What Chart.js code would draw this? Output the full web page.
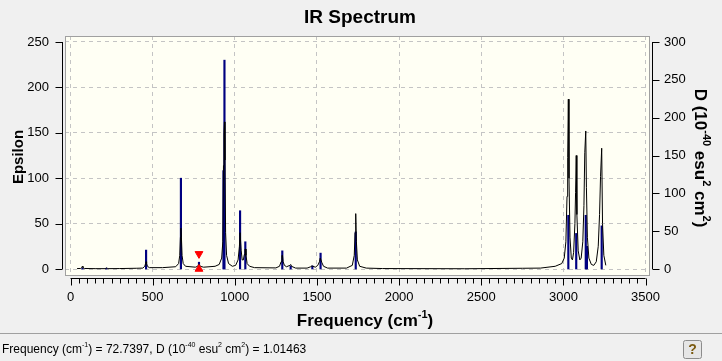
<!DOCTYPE html>
<html>
<head>
<meta charset="utf-8">
<script src="https://cdn.jsdelivr.net/npm/chart.js@4.4.0/dist/chart.umd.min.js"></script>
<style>
  html, body { margin: 0; padding: 0; background: #f0f0f0; }
  canvas { display: block; }
</style>
</head>
<body>
<canvas id="ir" width="722" height="361"></canvas>
<script>
// broadened spectrum (Epsilon, left axis)
var curveFreq = [40, 62, 68, 72, 76, 84, 150, 215, 220, 226, 300, 400, 440, 452, 457, 460, 463, 468, 480, 560,
  640, 658, 665, 669, 672, 675, 679, 686, 700, 760, 774, 779, 782, 785, 790, 810, 880, 905, 920, 927,
  931, 934, 937, 940, 944, 950, 962, 985, 1005, 1020, 1028, 1032, 1035, 1039, 1045, 1052, 1058, 1062, 1065, 1068,
  1075, 1090, 1120, 1250, 1272, 1282, 1287, 1290, 1294, 1302, 1315, 1335, 1340, 1345, 1370, 1440, 1462, 1470, 1476, 1490,
  1505, 1515, 1520, 1524, 1530, 1540, 1565, 1680, 1715, 1727, 1732, 1736, 1740, 1746, 1760, 1800, 1900, 2400, 2750, 2860,
  2950, 2990, 3005, 3015, 3022, 3026, 3030, 3034, 3040, 3048, 3055, 3062, 3070, 3074, 3078, 3082, 3090, 3100, 3108, 3118,
  3125, 3130, 3136, 3140, 3146, 3155, 3170, 3185, 3200, 3212, 3220, 3226, 3233, 3238, 3246, 3258];
var curveEps = [0.5, 0.6, 1.5, 3, 1.5, 0.6, 0.4, 0.4, 1.5, 0.4, 0.5, 0.8, 1, 3, 6, 8, 6, 3, 1.5, 1.5,
  2.5, 6, 15, 35, 45, 35, 15, 6, 3, 2, 3, 4.5, 5, 4.5, 3, 2, 3, 5, 12, 30,
  114, 150, 162, 120, 40, 15, 6, 3, 4, 10, 25, 40, 40, 20, 10, 10, 16, 22, 22, 15,
  6, 3, 1.5, 1.2, 3, 8, 15, 15, 8, 4, 2.5, 4, 5, 3, 1, 1, 2.5, 3.5, 3, 2,
  4, 8, 12, 12, 7, 3, 1, 1, 4, 15, 40, 61, 30, 10, 3, 1, 0.5, 0.3, 0.8, 1,
  3, 6, 12, 30, 80, 123, 187, 100, 35, 12, 10, 18, 50, 84, 125, 60, 20, 10, 12, 30,
  70, 128, 152, 90, 35, 12, 5, 4, 8, 25, 60, 102, 133, 50, 15, 4];

// computed transitions (D, right axis)
var stickFreq = [73, 218, 460, 672, 782, 931, 937, 1032, 1064, 1289, 1340, 1472, 1522, 1736, 3030, 3078, 3136, 3143, 3233];
var stickD = [1.0, 1.0, 25, 120, 9, 130, 276, 77, 36, 24, 4, 4, 21, 49, 71, 47, 71, 30, 57];

// selected transition marker
var markFreq = 782;
var markD = [20, 0];

var xTicks = [0, 500, 1000, 1500, 2000, 2500, 3000, 3500];
var epsTicks = [0, 50, 100, 150, 200, 250];
var dTicks = [0, 50, 100, 150, 200, 250, 300];

var FONT = "'Liberation Sans', Arial, sans-serif";
Chart.defaults.font.family = FONT;
Chart.defaults.color = "#000";

function drawRich(ctx, parts, x, y, size, bold, align) {
  var w = 0;
  parts.forEach(function(p) {
    ctx.font = (bold ? "bold " : "") + (p.sup ? Math.round(size * 0.62) : size) + "px " + FONT;
    p.w = ctx.measureText(p.t).width;
    w += p.w;
  });
  var cx = align == "left" ? x : x - w / 2;
  ctx.textAlign = "left";
  ctx.textBaseline = "middle";
  parts.forEach(function(p) {
    ctx.font = (bold ? "bold " : "") + (p.sup ? Math.round(size * 0.62) : size) + "px " + FONT;
    ctx.fillText(p.t, cx, p.sup ? y - size * 0.38 : y);
    cx += p.w;
  });
}

function plainLabel(v) { return String(v); }

var decor = {
  id: "decor",
  beforeDraw: function(chart) {
    var ctx = chart.ctx, a = chart.chartArea;
    ctx.save();
    ctx.fillStyle = "#f0f0f0";
    ctx.fillRect(0, 0, chart.width, chart.height);
    ctx.fillStyle = "#fffff4";
    ctx.fillRect(a.left, a.top, a.right - a.left, a.bottom - a.top);
    ctx.restore();
  },
  afterDraw: function(chart) {
    var ctx = chart.ctx, a = chart.chartArea;
    var sx = chart.scales.x, sy = chart.scales.y, sd = chart.scales.y2;
    ctx.save();
    // frame
    ctx.strokeStyle = "#a0a0a0";
    ctx.lineWidth = 1;
    ctx.strokeRect(a.left + 0.5, a.top + 0.5, a.right - a.left - 1, a.bottom - a.top);

    // axis lines and tick marks
    ctx.strokeStyle = "#000";
    ctx.beginPath();
    var lx = a.left - 2.5;
    ctx.moveTo(lx, sy.getPixelForValue(250));
    ctx.lineTo(lx, sy.getPixelForValue(0));
    epsTicks.forEach(function(v) {
      var py = Math.round(sy.getPixelForValue(v)) + 0.5;
      ctx.moveTo(lx - 7, py);
      ctx.lineTo(lx, py);
    });
    var rx = a.right + 2.5;
    ctx.moveTo(rx, sd.getPixelForValue(300));
    ctx.lineTo(rx, sd.getPixelForValue(0));
    dTicks.forEach(function(v) {
      var py = Math.round(sd.getPixelForValue(v)) + 0.5;
      ctx.moveTo(rx, py);
      ctx.lineTo(rx + 7, py);
    });
    var by = a.bottom + 3.5;
    ctx.moveTo(sx.getPixelForValue(0), by);
    ctx.lineTo(sx.getPixelForValue(3500), by);
    for (var f = 0; f <= 3500; f += 50) {
      var px = Math.round(sx.getPixelForValue(f)) + 0.5;
      ctx.moveTo(px, by);
      ctx.lineTo(px, by + (f % 500 == 0 ? 7 : 5));
    }
    ctx.stroke();

    // titles
    ctx.fillStyle = "#000";
    drawRich(ctx, [{t: "IR Spectrum"}], 360, 18, 19, true);
    drawRich(ctx, [{t: "Frequency (cm"}, {t: "-1", sup: true}, {t: ")"}], 365, 321, 17, true);

    ctx.save();
    ctx.translate(19, 157);
    ctx.rotate(-Math.PI / 2);
    drawRich(ctx, [{t: "Epsilon"}], 0, 0, 15, true);
    ctx.restore();

    ctx.save();
    ctx.translate(700, 158);
    ctx.rotate(Math.PI / 2);
    drawRich(ctx, [{t: "D (10"}, {t: "-40", sup: true}, {t: " esu"}, {t: "2", sup: true},
      {t: " cm"}, {t: "2", sup: true}, {t: ")"}], 0, 0, 17, true);
    ctx.restore();

    // status bar
    ctx.strokeStyle = "#a0a0a0";
    ctx.beginPath();
    ctx.moveTo(0, 333.5);
    ctx.lineTo(chart.width, 333.5);
    ctx.stroke();
    drawRich(ctx, [{t: "Frequency (cm"}, {t: "-1", sup: true}, {t: ") = 72.7397, D (10"}, {t: "-40", sup: true},
      {t: " esu"}, {t: "2", sup: true}, {t: " cm"}, {t: "2", sup: true}, {t: ") = 1.01463"}], 2, 350, 12, false, "left");

    // help button
    ctx.fillStyle = "#e6e6e6";
    ctx.strokeStyle = "#8c8c8c";
    ctx.beginPath();
    ctx.roundRect(683.5, 340.5, 18, 18, 2);
    ctx.fill();
    ctx.stroke();
    ctx.fillStyle = "#7a5a10";
    ctx.font = "bold 14px " + FONT;
    ctx.textAlign = "center";
    ctx.fillText("?", 692.5, 350);
    ctx.restore();
  }
};

var ctx = document.getElementById("ir").getContext("2d");
var chart = new Chart(ctx, {
  type: "bar",
  data: {
    datasets: [
      {
        type: "line",
        label: "Epsilon",
        data: curveFreq.map(function(f, i) { return {x: f, y: curveEps[i]}; }),
        yAxisID: "y",
        borderColor: "#000",
        borderWidth: 1,
        pointRadius: 0,
        tension: 0,
        order: 1
      },
      {
        type: "bar",
        label: "D",
        data: stickFreq.map(function(f, i) { return {x: f, y: stickD[i]}; }),
        yAxisID: "y2",
        backgroundColor: "#000080",
        barThickness: 1.5,
        order: 2
      },
      {
        type: "scatter",
        label: "marker",
        data: markD.map(function(d) { return {x: markFreq, y: d}; }),
        yAxisID: "y2",
        pointStyle: "triangle",
        rotation: [180, 0],
        pointRadius: 4.5,
        backgroundColor: "#ff0000",
        borderColor: "#ff0000",
        order: 0
      }
    ]
  },
  options: {
    responsive: false,
    animation: false,
    devicePixelRatio: 1,
    layout: { padding: { top: 36, left: 0, right: 0, bottom: 0 } },
    plugins: { legend: { display: false }, tooltip: { enabled: false } },
    scales: {
      x: {
        type: "linear",
        min: -33.5,
        max: 3527,
        offset: false,
        afterBuildTicks: function(s) { s.ticks = xTicks.map(function(v) { return {value: v}; }); },
        afterFit: function(s) { s.height = 86; },
        ticks: { font: { size: 13 }, padding: 15, maxRotation: 0, autoSkip: false, callback: plainLabel },
        grid: { color: "#c4c4c4", drawTicks: false, offset: false },
        border: { display: false, dash: [4, 4] }
      },
      y: {
        position: "left",
        min: -6.6,
        max: 256.6,
        afterBuildTicks: function(s) { s.ticks = epsTicks.map(function(v) { return {value: v}; }); },
        afterFit: function(s) { s.width = 65; },
        ticks: { font: { size: 13 }, padding: 16, callback: plainLabel },
        grid: { color: "#c4c4c4", drawTicks: false },
        border: { display: false, dash: [4, 4] }
      },
      y2: {
        position: "right",
        min: -7.92,
        max: 307.92,
        afterBuildTicks: function(s) { s.ticks = dTicks.map(function(v) { return {value: v}; }); },
        afterFit: function(s) { s.width = 72; },
        ticks: { font: { size: 13 }, padding: 6, callback: plainLabel },
        grid: { display: false },
        border: { display: false }
      }
    }
  },
  plugins: [decor]
});
</script>
</body>
</html>
